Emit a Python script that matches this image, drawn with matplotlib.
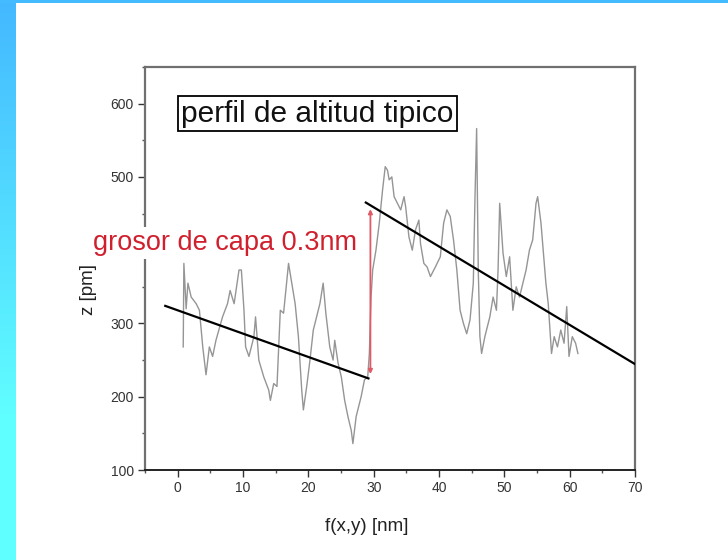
import numpy as np
import matplotlib
matplotlib.use("Agg")
import matplotlib.pyplot as plt
from matplotlib.patches import Rectangle

plt.rcParams['font.family'] = ['Liberation Sans', 'DejaVu Sans']

# profile data (x in nm, z in pm)
x_nm = [0.85, 0.95, 1.3, 1.57, 2.07, 2.83, 3.33, 3.84, 4.34, 4.85, 5.35, 5.86, 6.87, 7.63,
        8.03, 8.64, 9.39, 9.75, 10.15, 10.40, 10.91, 11.67, 11.92, 12.42, 13.18, 13.94,
        14.19, 14.70, 15.20, 15.71, 16.21, 16.97, 17.47, 17.98, 18.48, 18.99, 19.24, 19.75,
        20.25, 20.76, 21.26, 21.77, 22.27, 22.68, 23.28, 23.79, 24.04, 24.55, 25.05, 25.56,
        26.06, 26.57, 26.82, 27.32, 28.08, 28.59, 29.09, 29.34, 29.60, 29.85, 30.35, 30.86,
        31.36, 31.77, 32.12, 32.37, 32.78, 33.13, 33.64, 34.14, 34.65, 34.90, 35.40, 35.91,
        36.41, 36.92, 37.17, 37.68, 38.18, 38.69, 39.44, 40.20, 40.71, 41.21, 41.72, 42.22,
        42.73, 43.23, 43.74, 44.24, 44.75, 45.25, 45.51, 45.76, 46.01, 46.26, 46.52, 47.02,
        47.78, 48.28, 48.79, 49.04, 49.29, 49.80, 50.30, 50.81, 51.31, 51.82, 52.32, 52.83,
        53.33, 53.84, 54.34, 54.85, 55.10, 55.61, 56.11, 56.36, 56.72, 57.22, 57.63, 58.13,
        58.64, 59.14, 59.55, 59.90, 60.40, 60.91, 61.26]
z_pm = [268, 382, 320, 355, 336, 327, 318, 268, 230, 268, 255, 277, 309, 327,
        345, 327, 373, 373, 318, 268, 255, 282, 309, 250, 227, 209,
        195, 218, 214, 318, 314, 382, 355, 327, 282, 209, 182, 214,
        250, 291, 309, 327, 355, 314, 268, 250, 277, 246, 227, 195,
        173, 154, 136, 173, 200, 223, 227, 259, 336, 373, 400, 437,
        482, 514, 509, 496, 500, 473, 464, 455, 473, 459, 418, 400,
        428, 441, 409, 382, 377, 364, 377, 391, 437, 455, 446, 414,
        373, 318, 300, 286, 305, 355, 473, 566, 373, 282, 259, 282,
        309, 336, 318, 373, 464, 396, 364, 391, 318, 350, 336, 355,
        373, 400, 414, 464, 473, 437, 382, 355, 327, 259, 282, 268,
        291, 273, 323, 255, 282, 273, 259]

# fitted lines
fit1_x = [-1.9, 29.2]
fit1_z = [324, 225]
fit2_x = [28.8, 70.1]
fit2_z = [465, 244]

# step marker
step_x = 29.5
step_z = [231, 456]

x_ticks = [0, 10, 20, 30, 40, 50, 60, 70]
x_labels = ['0', '10', '20', '30', '40', '50', '60', '70']
y_ticks = [100, 200, 300, 400, 500, 600]
y_labels = ['100', '200', '300', '', '500', '600']  # 400 is hidden behind the red note

W, H = 728, 560
fig = plt.figure(figsize=(W / 100, H / 100), dpi=100)
fig.patch.set_facecolor('white')

# left gradient bar
gax = fig.add_axes([0, 0, 16 / W, 1])
grad = np.linspace(0, 1, 256)[:, None]
c_top = np.array([68, 184, 255]) / 255
c_bot = np.array([96, 255, 255]) / 255
t = np.clip(grad / 0.75, 0, 1)
img = c_top[None, None, :] * (1 - t[..., None]) + c_bot[None, None, :] * t[..., None]
gax.imshow(img, aspect='auto', extent=[0, 1, 0, 1], origin='upper')
gax.axis('off')
# top bar
fig.patches.append(Rectangle((0, 1 - 3 / H), 1, 3 / H, transform=fig.transFigure,
                             facecolor='#44BBFF', edgecolor='none', zorder=5))

ax = fig.add_axes([145 / W, 1 - 470 / H, 490 / W, 403 / H])
ax.plot(x_nm, z_pm, color='#959595', lw=1.0, zorder=2)
ax.plot(fit1_x, fit1_z, color='black', lw=1.6, zorder=3)
ax.plot(fit2_x, fit2_z, color='black', lw=1.6, zorder=3)
ax.annotate('', xy=(step_x, step_z[1]), xytext=(step_x, step_z[0]),
            arrowprops=dict(arrowstyle='<|-|>', color='#e05a66', lw=1.3,
                            mutation_scale=6, shrinkA=0, shrinkB=0), zorder=4)

ax.set_xlim(-4.2, 70)
ax.set_ylim(100, 650)
ax.set_xticks(x_ticks)
ax.set_xticklabels(x_labels)
ax.set_yticks(y_ticks)
ax.set_yticklabels(y_labels)
ax.set_xticks(np.arange(-5, 71, 5), minor=True)
ax.set_yticks(np.arange(100, 651, 50), minor=True)
ax.tick_params(which='major', direction='out', length=5, width=1, colors='#333333',
               labelsize=10, pad=3)
ax.tick_params(which='minor', direction='out', length=2.5, width=1, colors='#555555')
for s in ['top', 'right', 'left']:
    ax.spines[s].set_color('#707070')
    ax.spines[s].set_linewidth(1.6)
ax.spines['bottom'].set_color('#222222')
ax.spines['bottom'].set_linewidth(1.4)

ax.set_xlabel('f(x,y) [nm]', fontsize=13.5, color='#222222')
ax.set_ylabel('z [pm]', fontsize=13.5, color='#222222')
ax.xaxis.set_label_coords(0.453, -0.118)
ax.yaxis.set_label_coords(-0.097, 0.448)

ax.text(21.4, 586, 'perfil de altitud tipico', fontsize=21.5, color='#111111',
        ha='center', va='center', zorder=6,
        bbox=dict(boxstyle='square,pad=0.12', facecolor='white', edgecolor='black', lw=1.3))

ax.text(-12.9, 410, 'grosor de capa 0.3nm', fontsize=19.5, color='#d0202e',
        ha='left', va='center', zorder=6, clip_on=False,
        bbox=dict(boxstyle='square,pad=0.12', facecolor='white', edgecolor='none'))

fig.savefig('out.png', dpi=100, facecolor='white')
